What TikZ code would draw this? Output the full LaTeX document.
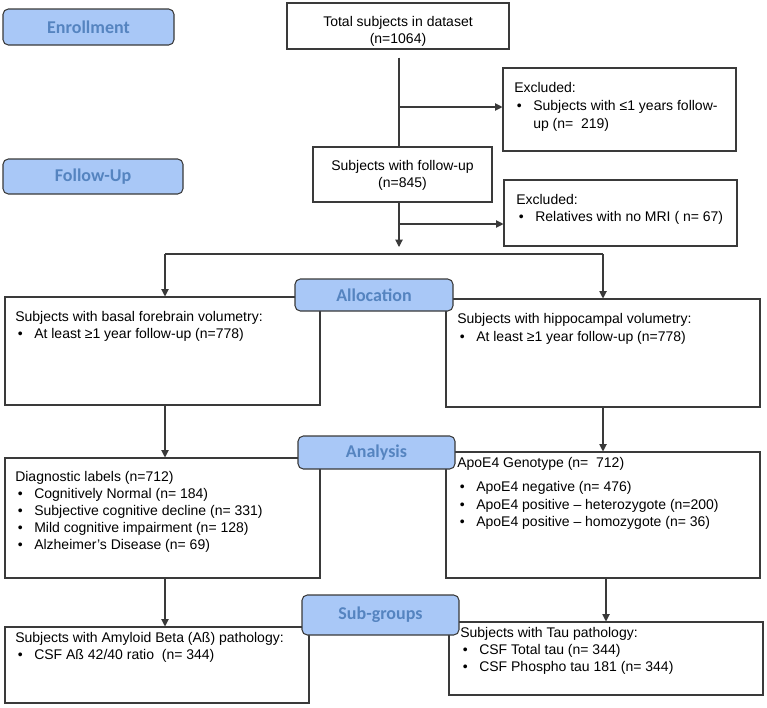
\documentclass[tikz,border=0pt]{standalone}
\usepackage{fontspec}
\setmainfont{Liberation Sans}
\newfontfamily\lblfont{Carlito}
\usetikzlibrary{fit,arrows.meta}
\definecolor{lblfill}{HTML}{A9C8F7}
\definecolor{lbltext}{HTML}{5584C0}
\definecolor{edge}{HTML}{3A3A3A}
\newcommand\bl{\makebox[14.25pt][l]{\hspace{2pt}•}}
\newcommand\ind{\hspace*{14.25pt}}
\begin{document}
\begin{tikzpicture}[x=0.75pt,y=-0.75pt,
  box/.style={draw=edge, line width=0.8pt, fill=white, inner sep=0pt},
  lbl/.style={draw=edge, line width=0.8pt, fill=lblfill, rounded corners=4pt, inner sep=0pt},
  lbltxt/.style={inner sep=0pt, text=lbltext, font=\lblfont\bfseries\fontsize{13.5}{16}\selectfont},
  txt/.style={inner sep=0pt, align=left, anchor=north west, font=\fontsize{10.5}{12.75}\selectfont},
  ctxt/.style={inner sep=0pt, align=center, font=\fontsize{10.5}{12.75}\selectfont},
  conn/.style={draw=edge, line width=0.8pt},
  arr/.style={conn, -{Triangle[length=5.5pt,width=5.5pt]}}]
\useasboundingbox (0,0) rectangle (767,707);

% boxes
\node[box, fit={(287,3) (509,49)}] (total) {};
\node[ctxt] (totalt) at (398,31.5) {Total subjects in dataset\\(n=1064)};
\node[box, fit={(503,68) (736,151)}] (excl1) {};
\node[txt] (excl1t) at (514,82.5) {Excluded:\\[0.75pt]\bl Subjects with ≤1 years follow-\\[0.75pt]\ind up (n=\ \ 219)};
\node[box, fit={(313,147) (492,202)}] (follow) {};
\node[ctxt] (followt) at (402.5,175.5) {Subjects with follow-up\\(n=845)};
\node[box, fit={(504,180) (737,246)}] (excl2) {};
\node[txt] (excl2t) at (516,194.5) {Excluded:\\\bl Relatives with no MRI ( n= 67)};

\node[box, fit={(5,297) (320,405)}] (bf) {};
\node[txt] (bft) at (15,311.5) {Subjects with basal forebrain volumetry:\\\bl At least ≥1 year follow-up (n=778)};
\node[box, fit={(446,299) (760,407)}] (hip) {};
\node[txt] (hipt) at (457,313.5) {Subjects with hippocampal volumetry:\\[0.75pt]\bl At least ≥1 year follow-up (n=778)};

\node[box, fit={(5,458) (320,578)}] (diag) {};
\node[txt] (diagt) at (15,471.5) {Diagnostic labels (n=712)\\
\bl Cognitively Normal (n= 184)\\
\bl Subjective cognitive decline (n= 331)\\
\bl Mild cognitive impairment (n= 128)\\
\bl Alzheimer’s Disease (n= 69)};
\node[box, fit={(446,452) (760,578)}] (apoe) {};
\node[txt] (apoet) at (457,457.5) {ApoE4 Genotype (n=\ \ 712)\\[5.25pt]
\bl ApoE4 negative (n= 476)\\[0.5pt]
\bl ApoE4 positive – heterozygote (n=200)\\
\bl ApoE4 positive – homozygote (n= 36)};

\node[box, fit={(5,627) (309,703)}] (amy) {};
\node[txt] (amyt) at (15,632.5) {Subjects with Amyloid Beta (Aß) pathology:\\\bl CSF Aß 42/40 ratio\ \ (n= 344)};
\node[box, fit={(449,622) (763,695)}] (tau) {};
\node[txt] (taut) at (460,627.5) {Subjects with Tau pathology:\\[-0.5pt]\bl CSF Total tau (n= 344)\\\bl CSF Phospho tau 181 (n= 344)};

% connectors
\coordinate (j1) at (399,107);
\coordinate (j2) at (399,224);
\coordinate (sp) at (399,247);
\coordinate (hl) at (165,254);
\coordinate (hr) at (603,254);
\coordinate (tx) at (606,600);
\draw[conn, shorten <=6pt] (total.south -| j1) -- (j1 |- follow.north);
\draw[arr] (j1) -- (j1 -| excl1.west);
\draw[arr] (j2) -- (j2 -| excl2.west);
\draw[arr] (follow.south -| j1) -- (sp);
\draw[conn] (hl) -- (hr);
\draw[arr] (hl) -- (hl |- bf.north);
\draw[arr] (hr) -- (hr |- hip.north);
\draw[arr] (bf.south -| hl) -- (hl |- diag.north);
\draw[arr] (hip.south -| hr) -- (hr |- apoe.north);
\draw[arr] (diag.south -| hl) -- (hl |- amy.north);
\draw[arr] (apoe.south -| tx) -- (tx |- tau.north);

% phase labels
\node[lbl, fit={(3,9) (174,45)}] (enr) {};
\node[lbltxt] (enrt) at (enr.center) {Enrollment};
\node[lbl, fit={(3,159) (183,194)}] (fup) {};
\node[lbltxt] (fupt) at (fup.center) {Follow-Up};
\node[lbl, fit={(295,279) (453,311)}] (alloc) {};
\node[lbltxt] (alloct) at (alloc.center) {Allocation};
\node[lbl, fit={(298,436) (455,469)}] (anal) {};
\node[lbltxt] (analt) at (anal.center) {Analysis};
\node[lbl, fit={(302,595) (459,635)}] (subg) {};
\node[lbltxt] (subgt) at (subg.center) {Sub-groups};
\end{tikzpicture}
\end{document}
